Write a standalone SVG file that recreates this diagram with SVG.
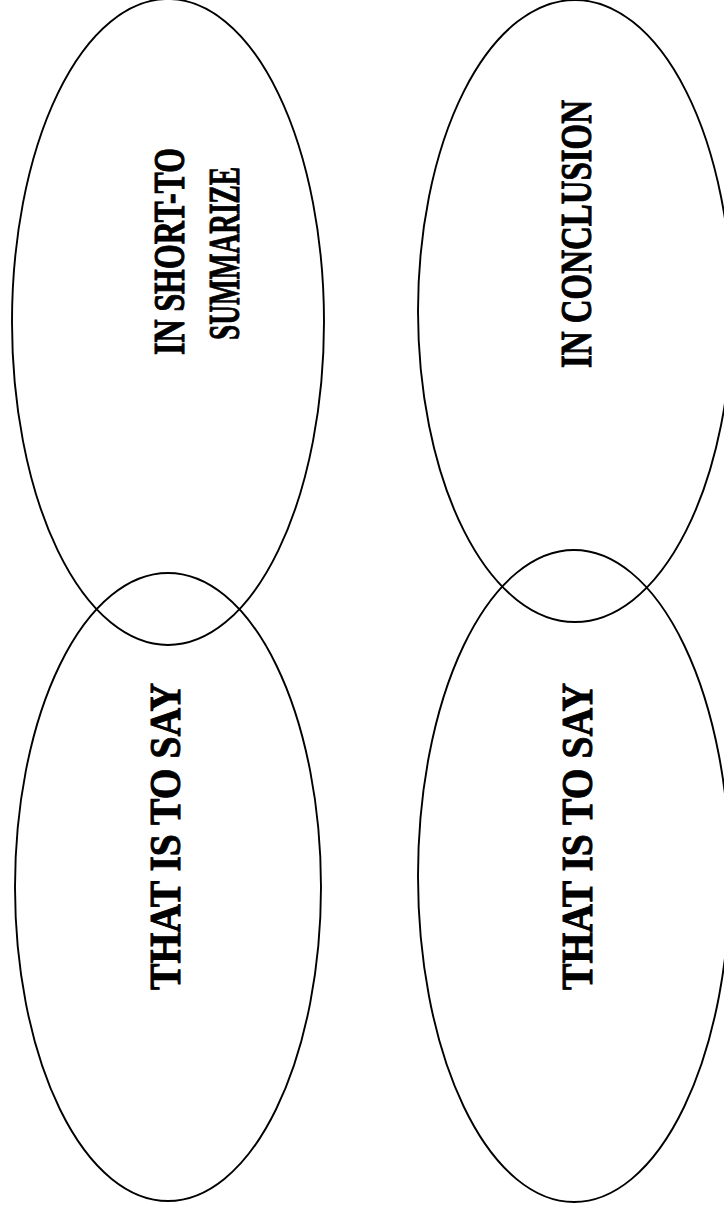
<svg xmlns="http://www.w3.org/2000/svg" width="724" height="1214" viewBox="0 0 724 1214">
<style>
.sh{fill:none;stroke:#000;stroke-width:1.9}
.t{font-family:"Liberation Serif","Times New Roman",serif;font-weight:bold;font-size:45px;fill:#000;stroke:#000;stroke-width:1}
</style>
<rect width="724" height="1214" fill="#fff"/>
<g id="node-summarize">
<ellipse class="sh" cx="168" cy="322" rx="156" ry="323"/>
<text class="t" transform="translate(184,355) rotate(-90)" textLength="207" lengthAdjust="spacingAndGlyphs">IN SHORT-TO</text>
<text class="t" transform="translate(239,340) rotate(-90)" textLength="173" lengthAdjust="spacingAndGlyphs">SUMMARIZE</text>
</g>
<g id="node-that-left">
<ellipse class="sh" cx="168" cy="887" rx="153" ry="314"/>
<text class="t" transform="translate(180,990) rotate(-90)" textLength="307" lengthAdjust="spacingAndGlyphs">THAT IS TO SAY</text>
</g>
<g id="node-conclusion">
<ellipse class="sh" cx="575" cy="311" rx="157" ry="311"/>
<text class="t" transform="translate(591,368) rotate(-90)" textLength="268" lengthAdjust="spacingAndGlyphs">IN CONCLUSION</text>
</g>
<g id="node-that-right">
<ellipse class="sh" cx="574" cy="876" rx="156" ry="326"/>
<text class="t" transform="translate(592,990) rotate(-90)" textLength="307" lengthAdjust="spacingAndGlyphs">THAT IS TO SAY</text>
</g>
<g id="connectors"></g>
</svg>
